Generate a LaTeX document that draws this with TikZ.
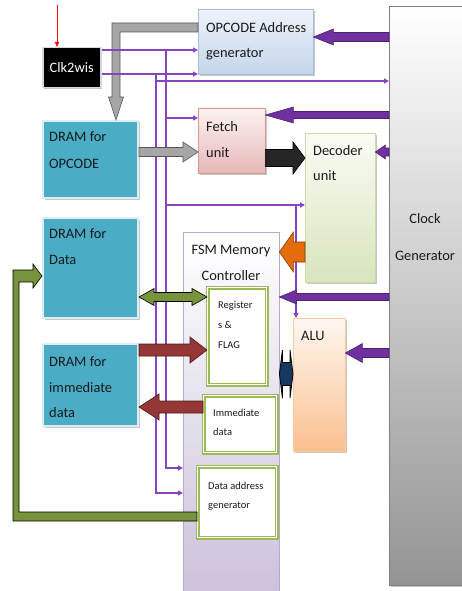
\documentclass[tikz,border=0pt]{standalone}
\usepackage{fontspec}
\setmainfont{Carlito}
\usetikzlibrary{calc,shadows,arrows.meta}

\definecolor{dramfill}{HTML}{4BACC6}
\definecolor{dramedge}{HTML}{DAEEF3}
\definecolor{sigpurple}{HTML}{8545C2}
\definecolor{clkpurple}{HTML}{7030A0}
\definecolor{regsgreen}{HTML}{9BBB59}
\definecolor{busgreen}{HTML}{77933C}
\definecolor{busred}{HTML}{953735}
\definecolor{busnavy}{HTML}{17375E}
\definecolor{busorange}{HTML}{E46C0A}
\definecolor{busgray}{HTML}{A6A6A6}
\definecolor{optop}{HTML}{EEF3FA}
\definecolor{opbot}{HTML}{C5D6EB}
\definecolor{opedge}{HTML}{A6BDDB}
\definecolor{fetchtop}{HTML}{FCF2F2}
\definecolor{fetchbot}{HTML}{E6B8B7}
\definecolor{fetchedge}{HTML}{DA9694}
\definecolor{dectop}{HTML}{FAFCF5}
\definecolor{decbot}{HTML}{D8E4BC}
\definecolor{decedge}{HTML}{C9DBA6}
\definecolor{fsmbot}{HTML}{CCC0DA}
\definecolor{fsmedge}{HTML}{B7A8CC}
\definecolor{alutop}{HTML}{FFF7F0}
\definecolor{alubot}{HTML}{FAC08F}
\definecolor{aluedge}{HTML}{F9C9A0}

\tikzset{
  blockbox/.style={rectangle, anchor=north west, inner sep=0pt,
    drop shadow={shadow xshift=1.5pt, shadow yshift=-1.5pt, fill=gray!45, opacity=1}},
  dram/.style={blockbox, fill=dramfill, draw=dramedge, line width=2pt},
  regbox/.style={rectangle, anchor=north west, inner sep=0pt, fill=white,
    draw=regsgreen, double=white, double distance=1.2pt, line width=1.6pt},
  lbl/.style={font=\fontsize{14.4}{#1}\selectfont, align=left, inner sep=0pt,
    anchor=north west, text=black!90},
  lbl/.default=26,
  slbl/.style={font=\fontsize{10.5}{#1}\selectfont, align=left, inner sep=0pt,
    anchor=north west, text=black!90},
  slbl/.default=19,
  sig/.style={draw=sigpurple, line width=1.2pt, -{Triangle[length=5pt,width=5pt]}},
  % fat arrow: shaft half width, head half width, head length
  fatarrow/.style n args={3}{to path={
      ($(\tikztotarget)!#3!(\tikztostart)$) coordinate (hb)
      ($(\tikztostart)!#1!90:(\tikztotarget)$)
      -- ($(hb)!#1!-90:(\tikztostart)$) -- ($(hb)!#2!-90:(\tikztostart)$)
      -- (\tikztotarget)
      -- ($(hb)!#2!90:(\tikztostart)$) -- ($(hb)!#1!90:(\tikztostart)$)
      -- ($(\tikztostart)!#1!-90:(\tikztotarget)$) -- cycle}},
  fatdouble/.style n args={3}{to path={
      ($(\tikztostart)!#3!(\tikztotarget)$) coordinate (ha)
      ($(\tikztotarget)!#3!(\tikztostart)$) coordinate (hb)
      (\tikztostart)
      -- ($(ha)!#2!90:(\tikztotarget)$) -- ($(ha)!#1!90:(\tikztotarget)$)
      -- ($(hb)!#1!-90:(\tikztostart)$) -- ($(hb)!#2!-90:(\tikztostart)$)
      -- (\tikztotarget)
      -- ($(hb)!#2!90:(\tikztostart)$) -- ($(hb)!#1!90:(\tikztostart)$)
      -- ($(ha)!#1!-90:(\tikztotarget)$) -- ($(ha)!#2!-90:(\tikztotarget)$)
      -- cycle}},
  purparr/.style={fill=clkpurple, draw=clkpurple!70!black, line width=0.6pt},
  grayarr/.style={fill=busgray, draw=black!65, line width=0.6pt},
  blackarr/.style={fill=black!85, draw=black, line width=0.6pt},
  orangearr/.style={fill=busorange, draw=busorange!55!black, line width=0.6pt},
  greenarr/.style={fill=busgreen, draw=black, line width=0.6pt},
  redarr/.style={fill=busred, draw=busred!50!black, line width=0.6pt},
  navyarr/.style={fill=busnavy, draw=black, line width=0.8pt},
}

\begin{document}
\begin{tikzpicture}[x=1pt, y=-1pt]
    \useasboundingbox (0,0) rectangle (462,591);

    % Define nodes
    \node[blockbox, minimum width=80pt, minimum height=579pt, draw=black!50,
      top color=white, bottom color=black!42]                 (clock) at (389,6) {};
    \node[blockbox, minimum width=115pt, minimum height=65pt, draw=opedge,
      top color=optop, bottom color=opbot]                    (opgen) at (198,9) {};
    \node[blockbox, minimum width=58pt, minimum height=40pt, fill=black,
      draw=black!15, line width=1.5pt]                        (clk) at (42,47) {};
    \node[blockbox, minimum width=67pt, minimum height=65pt, draw=fetchedge,
      top color=fetchtop, bottom color=fetchbot]              (fetch) at (198,108) {};
    \node[dram, minimum width=95pt, minimum height=77pt]      (dram1) at (42,120) {};
    \node[blockbox, minimum width=70pt, minimum height=149pt, draw=decedge,
      top color=dectop, bottom color=decbot]                  (decoder) at (305,133) {};
    \node[dram, minimum width=95pt, minimum height=100pt]     (dram2) at (42,217) {};
    \node[rectangle, anchor=north west, minimum width=96pt, minimum height=365pt,
      draw=fsmedge, top color=white, bottom color=fsmbot]     (fsm) at (183,232) {};
    \node[regbox, minimum width=59pt, minimum height=97pt]    (regs) at (207,287) {};
    \node[blockbox, minimum width=52pt, minimum height=133pt, draw=aluedge,
      top color=alutop, bottom color=alubot]                  (alu) at (293,318) {};
    \node[dram, minimum width=95pt, minimum height=82pt]      (dram3) at (42,343) {};
    \node[regbox, minimum width=73pt, minimum height=57pt]    (imm) at (203,395) {};
    \node[regbox, minimum width=79pt, minimum height=71pt]    (dagen) at (197,466) {};

    % Labels
    \node[lbl=25] at (206,22.5) {OPCODE Address\\generator};
    \node[font=\fontsize{14.4}{17}\selectfont, text=white] at (clk.center) {Clk2wis};
    \node[lbl=27] at (49,131.5) {DRAM for\\OPCODE};
    \node[lbl=26] at (206,121.5) {Fetch\\unit};
    \node[lbl=25] at (313,145.5) {Decoder\\unit};
    \node[lbl=37, anchor=north, align=center] at (425,213.5) {Clock\\Generator};
    \node[lbl=26] at (49,228.5) {DRAM for\\Data};
    \node[lbl=26, anchor=north, align=center] at (231,244.5) {FSM Memory\\Controller};
    \node[slbl=20] at (218,301) {Register\\s \&\\FLAG};
    \node[lbl] at (301,331.5) {ALU};
    \node[lbl=25.5] at (49,356.5) {DRAM for\\immediate\\data};
    \node[slbl] at (213,409) {Immediate\\data};
    \node[slbl] at (208,482) {Data address\\generator};

    % Connect the nodes
    \coordinate (clkin) at (57,5);
    \draw[red, line width=0.8pt, -{Triangle[length=5pt,width=4pt]}] (clkin) -- (clkin |- clk.north);

    \draw[grayarr] (opgen.west |- 0,23) -- (112,23) -- (112,97) -- (108.5,97)
      -- (116,0 |- dram1.north) -- (123.5,97) -- (120,97) -- (120,32)
      -- (opgen.west |- 0,32) -- cycle;

    \coordinate (j1) at (166,50);
    \coordinate (j2) at (156,74);
    \coordinate (j3) at (296,205);
    \draw[sig] (clk.east |- j1) -- (opgen.west |- j1);
    \draw[sig] (clk.east |- j2) -- (opgen.west |- j2);
    \draw[sig] (j2 |- 0,81) -- (clock.west |- 0,81);
    \draw[sig] (j1 |- 0,118) -- (fetch.west |- 0,118);
    \draw[sig] (j1 |- j3) -- (decoder.west |- j3);
    \draw[sig] (j3) -- (j3 |- alu.north);
    \draw[sig] (j1) |- (fsm.west |- 0,468);
    \draw[sig] (j2) |- (fsm.west |- 0,493);

    \draw[purparr] (clock.west |- 0,37) to[fatarrow={4.5pt}{8pt}{20pt}] (opgen.east |- 0,37);
    \draw[purparr] (clock.west |- 0,115) to[fatarrow={3.5pt}{8pt}{28pt}] (fetch.east |- 0,115);
    \draw[purparr] (clock.west |- 0,152) to[fatarrow={4pt}{7pt}{10pt}] (decoder.east |- 0,152);
    \draw[purparr] (clock.west |- 0,297) to[fatarrow={3.5pt}{7pt}{17pt}] (fsm.east |- 0,297);
    \draw[purparr] (clock.west |- 0,353) to[fatarrow={4.5pt}{9.5pt}{17pt}] (alu.east |- 0,353);

    \draw[grayarr] (dram1.east |- 0,152) to[fatarrow={4.5pt}{10pt}{15pt}] (fetch.west |- 0,152);
    \draw[blackarr] (fetch.east |- 0,158) to[fatarrow={8.5pt}{16pt}{12pt}] (decoder.west |- 0,158);
    \draw[orangearr] (decoder.west |- 0,252) to[fatarrow={10pt}{20pt}{14pt}] (fsm.east |- 0,252);
    \draw[greenarr] (dram2.east |- 0,297) to[fatdouble={4.5pt}{8.5pt}{15pt}] (regs.west |- 0,297);
    \draw[redarr] (dram3.east |- 0,350) to[fatarrow={6pt}{13pt}{17pt}] (regs.west |- 0,350);
    \draw[redarr] (imm.west |- 0,407) to[fatarrow={6pt}{13pt}{20pt}] (dram3.east |- 0,407);
    \draw[navyarr] (fsm.east |- 0,374) to[fatdouble={11.5pt}{24pt}{3pt}] (alu.west |- 0,374);

    \draw[greenarr] (dagen.west |- 0,512) -- (19,512) -- (19,282) -- (33,282) -- (33,288)
      -- (dram2.west |- 0,276) -- (33,264) -- (33,270) -- (13,270) -- (13,521)
      -- (dagen.west |- 0,521) -- cycle;

\end{tikzpicture}
\end{document}
